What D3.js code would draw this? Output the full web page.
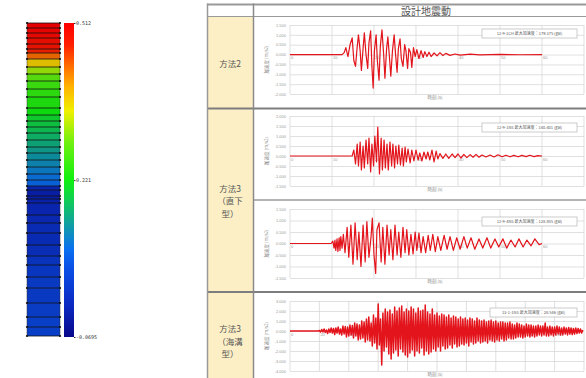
<!DOCTYPE html>
<html>
<head>
<meta charset="utf-8">
<script src="https://cdn.jsdelivr.net/npm/d3@7"></script>
<style>
  body { margin: 0; background: #fff; }
  svg { display: block; }
</style>
</head>
<body>
<svg id="chart" width="586" height="378"></svg>
<script>
// soil column: layer boundaries (depth, m) and the value of each layer
const layerDepths = [0, 1, 2, 3, 4.2, 5.2, 6, 7.2, 8.8, 10.2, 11.6, 13.2, 14.8, 17, 18.4, 19.6, 20.8, 22,
  23.4, 24.8, 26, 27.4, 28.8, 30.2, 31.4, 32.6, 33.4, 34.6, 35.2, 36, 38.4, 40, 42, 44.4, 46.6, 48.4,
  50.8, 53, 56, 58.8, 60.8, 62.6];
const layerValues = [0.512, 0.506, 0.500, 0.495, 0.486, 0.471, 0.431, 0.372, 0.314, 0.279, 0.256, 0.245,
  0.233, 0.221, 0.204, 0.192, 0.181, 0.169, 0.157, 0.146, 0.134, 0.122, 0.111, 0.099, 0.088, -0.011,
  -0.023, -0.023, -0.017, -0.011, -0.006, 0.000, 0.000, 0.006, 0.018, 0.024, 0.029, 0.029, 0.035, 0.041, 0.041];
const colorTicks = [0.512, 0.221, -0.0695];
const colorTickLabels = ['0.512', '0.221', '-0.0695'];

// table texts
const headerLabel = '設計地震動';
const rowLabels = [['方法2'], ['方法3', '（直下', '型）'], ['方法3', '（海溝', '型）']];
const legendTexts = [
  '12-9-1CH 最大加速度：179.375 (gal)',
  '12-9-1NS 最大加速度：140.401 (gal)',
  '12-9-4NS 最大加速度：128.855 (gal)',
  '13-1-1NS 最大加速度：28.546 (gal)'
];
const yTitle = '加速度 (m/s2)';
const xTitle = '時刻 (s)';

// y tick values of each chart
const yTicks1 = [1.5, 1, 0.5, 0, -0.5, -1, -1.5, -2];
const yTicks2 = [2, 1.5, 1, 0.5, 0, -0.5, -1, -1.5];
const yTicks3 = [1.5, 1, 0.5, 0, -0.5, -1, -1.5];
const yTicks4 = [3, 2, 1, 0, -1, -2, -3, -4];

// waveforms [time s, acc]
const wave1 = [[0, 0], [12.4, 0], [12.9, 0.1], [13.3, 0.35], [13.8, -0.1], [14.3, 0.5], [14.8, 0.85], [15.2, -0.3],
  [15.6, -0.6], [16.0, 0.4], [16.3, 1.0], [16.7, 0.2], [17.0, -0.8], [17.4, 0.3], [17.7, 1.1], [18.1, 0.0],
  [18.5, -0.7], [18.8, 0.6], [19.2, 1.2], [19.5, -0.6], [19.8, -1.7], [20.1, 0.2], [20.5, 1.0], [20.8, -0.3],
  [21.2, -1.3], [21.5, 0.4], [21.9, 1.25], [22.3, 0.0], [22.6, -1.2], [23.0, 0.3], [23.3, 0.9], [23.7, -0.2],
  [24.0, -1.1], [24.4, 0.2], [24.8, 1.0], [25.1, 0.1], [25.5, -0.9], [25.8, 0.3], [26.2, 0.8], [26.5, -0.2],
  [26.9, -0.6], [27.3, 0.5], [27.6, 0.2], [28.0, -0.7], [28.3, 0.3], [28.7, 0.1], [29.0, -0.65], [29.4, 0.35],
  [29.8, -0.1], [30.2, 0.25], [30.7, -0.2], [31.2, 0.2], [31.7, -0.15], [32.1, 0.15], [32.6, -0.1], [33.1, 0.12],
  [33.6, -0.1], [34.3, 0.08], [35.0, -0.07], [35.7, 0.1], [36.4, -0.05], [37.1, 0.06], [38.1, -0.04], [39.3, 0.03],
  [40.5, -0.03], [42.9, 0.02], [45.2, -0.02], [50, 0.01], [54.8, -0.01], [60, 0]];

const wave2 = [[0, 0], [14.8, 0], [15.2, 0.3], [15.6, -0.4], [16.0, 0.6], [16.3, -0.5], [16.7, 0.7], [17.0, -0.7],
  [17.4, 0.5], [17.7, -0.6], [18.1, 0.8], [18.5, -0.4], [18.8, 0.9], [19.2, -0.8], [19.5, 0.6], [19.9, -0.5],
  [20.2, 1.0], [20.6, -0.3], [20.9, 1.45], [21.3, -0.9], [21.7, 0.9], [22.0, -0.7], [22.4, 0.8], [22.7, -0.6],
  [23.1, 0.6], [23.4, -0.7], [23.8, 0.7], [24.2, -0.5], [24.5, 0.6], [24.9, -0.6], [25.2, 0.5], [25.6, -0.4],
  [25.9, 0.55], [26.3, -0.45], [26.7, 0.4], [27.0, -0.5], [27.4, 0.45], [27.7, -0.3], [28.1, 0.35], [28.6, -0.35],
  [29.0, 0.3], [29.5, -0.25], [30.0, 0.3], [30.5, -0.2], [30.9, 0.15], [31.4, -0.25], [31.9, 0.2], [32.4, -0.15],
  [32.8, 0.2], [33.3, -0.2], [33.8, 0.3], [34.3, -0.3], [34.8, 0.25], [35.2, -0.15], [35.7, 0.12], [36.4, -0.12],
  [37.1, 0.1], [37.8, -0.12], [38.6, 0.1], [39.3, -0.08], [40.0, 0.1], [40.7, -0.1], [41.4, 0.08], [42.1, -0.08],
  [42.9, 0.07], [43.6, -0.06], [44.3, 0.08], [45.0, -0.06], [45.7, 0.05], [46.7, -0.05], [47.6, 0.05], [48.6, -0.05],
  [49.5, 0.06], [50.5, -0.04], [51.4, 0.04], [52.4, -0.04], [53.3, 0.03], [54.3, -0.04], [55.2, 0.03], [56.2, -0.03],
  [57.1, 0.04], [58.1, -0.03], [59.0, 0.02], [60, 0]];

const wave3 = [[0, 0], [9.8, 0], [10.2, 0.1], [10.5, -0.2], [10.7, 0.15], [10.9, -0.3], [11.2, 0.2], [11.4, -0.35],
  [11.7, 0.25], [11.9, -0.3], [12.1, 0.3], [12.4, -0.2], [12.7, 0.4], [13.1, -0.4], [13.6, 0.7], [14.0, -0.6],
  [14.5, 0.8], [15.0, -0.9], [15.5, 0.9], [16.0, -0.7], [16.4, 0.5], [16.9, -1.0], [17.4, 0.8], [17.9, -0.8],
  [18.3, 0.95], [18.8, -0.6], [19.3, 0.3], [19.6, 1.1], [20.0, -0.5], [20.4, -1.3], [20.7, 0.6], [21.2, 0.9],
  [21.7, -0.8], [22.1, 0.7], [22.6, -0.9], [23.1, 0.8], [23.6, -0.5], [24.0, 0.6], [24.5, -0.7], [25.0, 0.8],
  [25.5, -0.5], [25.9, 0.5], [26.4, -0.6], [26.9, 0.7], [27.4, -0.4], [27.8, 0.6], [28.3, -0.5], [28.8, 0.4],
  [29.3, -0.45], [29.8, 0.5], [30.2, -0.3], [30.7, 0.45], [31.2, -0.4], [31.7, 0.3], [32.3, -0.4], [32.9, 0.35],
  [33.4, -0.3], [34.0, 0.4], [34.6, -0.35], [35.2, 0.3], [35.9, -0.3], [36.7, 0.35], [37.4, -0.25], [38.1, 0.3],
  [38.9, -0.3], [39.7, 0.25], [40.5, -0.25], [41.4, 0.3], [42.2, -0.2], [43.1, 0.25], [44.0, -0.25], [45.0, 0.2],
  [45.9, -0.2], [46.9, 0.25], [47.8, -0.2], [48.8, 0.2], [49.7, -0.15], [50.7, 0.2], [51.6, -0.2], [52.6, 0.15],
  [53.6, -0.15], [54.5, 0.2], [55.5, -0.15], [56.4, 0.15], [57.4, -0.1], [58.3, 0.2], [59.3, -0.05], [60, 0]];

// trench-type record: quiet until wave4Start, then sampled every wave4Step s
const wave4Start = 20;
const wave4Step = 0.8;
const wave4 = [
  0.05, -0.1, 0.15, -0.1, 0.2, -0.15, 0.1, -0.25, 0.2, -0.15,
  0.3, -0.2, 0.25, -0.35, 0.3, -0.2, 0.4, -0.3, 0.2, -0.4,
  0.5, -0.3, 0.45, -0.6, 0.4, -0.5, 0.6, -0.4, 0.55, -0.7,
  0.8, -0.5, 0.7, -0.9, 0.6, -0.8, 1.0, -0.7, 0.9, -1.1,
  1.2, -0.9, 1.4, -1.0, 0.8, -1.5, 1.6, -1.2, 1.3, -1.8,
  2.7, -1.4, 1.2, -3.4, 1.8, -2.0, 2.2, -1.6, 1.9, -2.3,
  2.1, -2.8, 1.7, -2.2, 2.4, -1.9, 2.0, -2.5, 2.3, -1.8,
  2.5, -2.1, 1.9, -2.4, 2.2, -2.6, 2.0, -2.2, 2.4, -1.9,
  2.2, -2.5, 1.8, -2.0, 2.3, -2.2, 2.0, -1.7, 2.1, -2.4,
  2.6, -2.0, 1.9, -2.3, 1.7, -2.1, 2.2, -1.8, 1.6, -2.0,
  1.8, -1.6, 1.5, -2.0, 1.7, -1.5, 1.6, -1.8, 1.4, -1.7,
  1.6, -1.4, 1.3, -1.7, 1.5, -1.3, 1.4, -1.6, 1.2, -1.5,
  1.4, -1.3, 1.2, -1.4, 1.3, -1.2, 1.1, -1.5, 1.3, -1.1,
  1.2, -1.3, 1.0, -1.2, 1.3, -1.0, 1.1, -1.2, 1.0, -1.1,
  1.1, -1.0, 0.9, -1.2, 1.0, -0.9, 1.1, -1.0, 0.9, -1.1,
  1.0, -0.9, 0.8, -1.0, 0.9, -0.8, 0.9, -1.0, 0.8, -0.9,
  0.8, -0.7, 0.9, -0.8, 0.7, -0.8, 0.6, -0.7, 0.8, -0.6,
  0.7, -0.6, 0.6, -0.7, 0.5, -0.6, 0.7, -0.5, 0.6, -0.6,
  0.6, -0.5, 0.5, -0.6, 0.5, -0.5, 0.6, -0.4, 0.5, -0.5,
  0.5, -0.4, 0.8, -0.5, 0.4, -0.5, 0.5, -0.4, 0.4, -0.5,
  0.4, -0.4, 0.5, -0.3, 0.4, -0.4, 0.3, -0.4, 0.4, -0.3,
  0.3, -0.4, 0.35, -0.3, 0.3, -0.35, 0.25, -0.3, 0.3, -0.25,
  0.25, -0.2, 0.2, -0.2, 0.1];

const svg = d3.select('#chart');
const jp = '"Noto Sans CJK JP", "Noto Sans", sans-serif';

// ---------- colour map ----------
const cmapT = [0, 0.1, 0.22, 0.28, 0.36, 0.44, 0.5, 0.62, 0.72, 0.8, 0.86, 0.93, 1];
const cmapColors = ['#08088a', '#0a28c0', '#0a50e6', '#0a70f0', '#10a0a0', '#10d050', '#10f010',
  '#70f010', '#f0f000', '#ffb000', '#ff7000', '#ff2000', '#ff0000'];
const vMin = d3.min(colorTicks), vMax = d3.max(colorTicks);
const color = d3.scaleLinear()
  .domain(cmapT.map(t => vMin + t * (vMax - vMin)))
  .range(cmapColors);

// soil column
const depth = d3.scaleLinear().domain([0, d3.max(layerDepths)]).range([23, 336]);
const col = svg.append('g');
col.selectAll('rect')
  .data(layerValues)
  .enter().append('rect')
  .attr('x', 27)
  .attr('width', 33)
  .attr('y', (d, i) => depth(layerDepths[i]))
  .attr('height', (d, i) => depth(layerDepths[i + 1]) - depth(layerDepths[i]))
  .attr('fill', d => d3.color(color(d)).darker(0.3));
col.selectAll('line.mesh')
  .data(layerDepths)
  .enter().append('line')
  .attr('class', 'mesh')
  .attr('x1', 27).attr('x2', 60)
  .attr('y1', d => depth(d)).attr('y2', d => depth(d))
  .attr('stroke', '#111').attr('stroke-width', 0.8);
[27, 60].forEach(xx => {
  col.append('line')
    .attr('x1', xx).attr('x2', xx)
    .attr('y1', depth(0)).attr('y2', depth(d3.max(layerDepths)))
    .attr('stroke', '#333').attr('stroke-width', 0.5);
  col.selectAll(null)
    .data(layerDepths)
    .enter().append('circle')
    .attr('cx', xx).attr('cy', d => depth(d)).attr('r', 1.1)
    .attr('fill', '#111');
});

// colour bar
const grad = svg.append('defs').append('linearGradient')
  .attr('id', 'cbar')
  .attr('x1', 0).attr('y1', 1).attr('x2', 0).attr('y2', 0);
grad.selectAll('stop')
  .data(cmapT)
  .enter().append('stop')
  .attr('offset', d => d)
  .attr('stop-color', (d, i) => cmapColors[i]);
const cb = d3.scaleLinear().domain([vMin, vMax]).range([337, 23]);
svg.append('rect')
  .attr('x', 64).attr('width', 10)
  .attr('y', cb(vMax)).attr('height', cb(vMin) - cb(vMax))
  .attr('fill', 'url(#cbar)');
const cbAxis = svg.append('g')
  .attr('transform', 'translate(74,0)')
  .call(d3.axisRight(cb).tickValues(colorTicks).tickFormat((d, i) => colorTickLabels[i]).tickSize(1.5).tickPadding(0.5));
cbAxis.select('.domain').remove();
cbAxis.selectAll('line').attr('stroke', '#333');
cbAxis.selectAll('text')
  .attr('fill', '#333')
  .style('font-family', '"DejaVu Sans Mono", monospace')
  .style('font-size', '5px');

// ---------- table ----------
const tbl = svg.append('g');
tbl.append('rect').attr('x', 207).attr('y', 16).attr('width', 46).attr('height', 362).attr('fill', '#fcefc6');
const hline = (y, x1, x2, c, w) => tbl.append('line')
  .attr('x1', x1).attr('x2', x2).attr('y1', y).attr('y2', y)
  .attr('stroke', c).attr('stroke-width', w);
const vline = (x, y1, y2, c, w) => tbl.append('line')
  .attr('x1', x).attr('x2', x).attr('y1', y1).attr('y2', y2)
  .attr('stroke', c).attr('stroke-width', w);
hline(4.5, 207, 586, '#999', 2);
hline(16.5, 207, 586, '#999', 1.2);
hline(108.5, 207, 586, '#7d7d7d', 2.2);
hline(200, 253, 586, '#b4b4b4', 1.8);
hline(292, 207, 586, '#7d7d7d', 2.2);
vline(207.5, 3.5, 378, '#999', 1.5);
vline(253.5, 3.5, 378, '#8a8a8a', 1.5);

tbl.append('text')
  .attr('x', 426).attr('y', 15)
  .attr('text-anchor', 'middle')
  .attr('fill', '#555')
  .style('font-family', jp).style('font-size', '10px')
  .text(headerLabel);

const labelLayout = [{y: 67, gap: 12.4}, {y: 192, gap: 12.4}, {y: 332, gap: 12.6}];
rowLabels.forEach((lines, r) => {
  lines.forEach((s, i) => {
    tbl.append('text')
      .attr('x', 230)
      .attr('y', labelLayout[r].y + i * labelLayout[r].gap)
      .attr('text-anchor', 'middle')
      .attr('fill', '#555')
      .style('font-family', jp).style('font-size', '8.5px')
      .text(s);
  });
});

// ---------- waveform charts ----------
const wave4Points = [[0, 0], [wave4Start - wave4Step, 0]]
  .concat(wave4.map((v, i) => [wave4Start + i * wave4Step, v]));

const charts = [
  {data: wave1, yTicks: yTicks1, xMax: 70, xCount: 7, top: 25, bottom: 94, legend: legendTexts[0], lx: 482, ly: 29, lw: 95, sw: 1.2},
  {data: wave2, yTicks: yTicks2, xMax: 70, xCount: 7, top: 116, bottom: 186, legend: legendTexts[1], lx: 482, ly: 123, lw: 95, sw: 1.2},
  {data: wave3, yTicks: yTicks3, xMax: 70, xCount: 7, top: 209, bottom: 278, legend: legendTexts[2], lx: 482, ly: 217, lw: 95, sw: 1.2},
  {data: wave4Points, yTicks: yTicks4, xMax: 200, xCount: 10, top: 301, bottom: 371, legend: legendTexts[3], lx: 490, ly: 308, lw: 87, sw: 1.5}
];

const left = 290, right = 584;

charts.forEach(c => {
  const x = d3.scaleLinear().domain([0, c.xMax]).range([left, right]);
  const y = d3.scaleLinear().domain([d3.min(c.yTicks), d3.max(c.yTicks)]).range([c.bottom, c.top]);
  const g = svg.append('g');

  // horizontal grid + y labels
  const ya = g.append('g')
    .attr('transform', 'translate(' + left + ',0)')
    .call(d3.axisLeft(y).tickValues(c.yTicks).tickSize(-(right - left)).tickPadding(4)
      .tickFormat(d => d3.format('.3f')(d).replace('−', '-')));
  ya.select('.domain').remove();
  ya.selectAll('line').attr('stroke', '#d2d2d2').attr('stroke-width', 0.7);
  ya.selectAll('text').attr('fill', '#999').style('font-family', 'Arial, sans-serif').style('font-size', '4px');

  // vertical grid
  const xt = x.ticks(c.xCount);
  g.selectAll('line.vg')
    .data(xt)
    .enter().append('line')
    .attr('class', 'vg')
    .attr('x1', d => x(d)).attr('x2', d => x(d))
    .attr('y1', c.top).attr('y2', c.bottom)
    .attr('stroke', '#d2d2d2').attr('stroke-width', 0.7);
  g.selectAll('text.xl')
    .data(xt.filter(d => x(d) < right - 4))
    .enter().append('text')
    .attr('class', 'xl')
    .attr('x', d => x(d) + 1).attr('y', y(0) + 4.5)
    .attr('fill', '#999')
    .style('font-family', 'Arial, sans-serif').style('font-size', '4px')
    .text(d => d);

  // axis titles
  g.append('text')
    .attr('transform', 'translate(268,' + ((c.top + c.bottom) / 2) + ') rotate(-90)')
    .attr('text-anchor', 'middle')
    .attr('fill', '#888')
    .style('font-family', jp).style('font-size', '4.5px')
    .text(yTitle);
  g.append('text')
    .attr('x', 435).attr('y', c.bottom + 4.5)
    .attr('text-anchor', 'middle')
    .attr('fill', '#888')
    .style('font-family', jp).style('font-size', '4.5px')
    .text(xTitle);

  // waveform
  g.append('path')
    .datum(c.data)
    .attr('fill', 'none')
    .attr('stroke', '#e3141b')
    .attr('stroke-width', c.sw)
    .attr('stroke-linejoin', 'round')
    .attr('d', d3.line().x(d => x(d[0])).y(d => y(d[1])));

  // legend box
  g.append('rect')
    .attr('x', c.lx).attr('y', c.ly).attr('width', c.lw).attr('height', 9)
    .attr('fill', '#fff').attr('stroke', '#aaa').attr('stroke-width', 0.6);
  g.append('text')
    .attr('x', c.lx + c.lw / 2).attr('y', c.ly + 6)
    .attr('text-anchor', 'middle')
    .attr('fill', '#555')
    .style('font-family', jp).style('font-size', '4px')
    .text(c.legend);
});
</script>
</body>
</html>
